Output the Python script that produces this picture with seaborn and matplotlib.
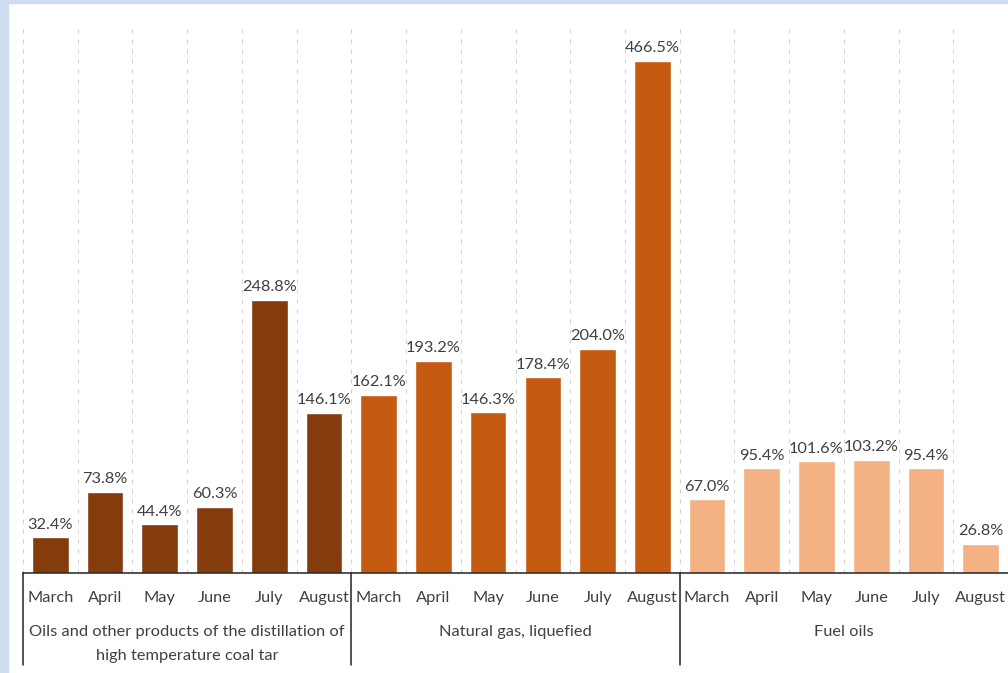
import matplotlib
matplotlib.use("Agg")
import matplotlib.pyplot as plt
import matplotlib.patches as mpatches
import matplotlib.transforms as mtransforms
import pandas as pd
import seaborn as sns

# Data
months = ["March", "April", "May", "June", "July", "August"]
groups = [
    "Oils and other products of the distillation of\nhigh temperature coal tar",
    "Natural gas, liquefied",
    "Fuel oils",
]
coal_tar = [32.4, 73.8, 44.4, 60.3, 248.8, 146.1]
lng = [162.1, 193.2, 146.3, 178.4, 204.0, 466.5]
fuel_oils = [67.0, 95.4, 101.6, 103.2, 95.4, 26.8]
colors = ["#843C0C", "#C55A11", "#F4B183"]

rows = []
for g, vals in zip(groups, [coal_tar, lng, fuel_oils]):
    for m, v in zip(months, vals):
        rows.append({"key": f"{g}|{m}", "month": m, "group": g, "value": v})
df = pd.DataFrame(rows)

sns.set_theme(style="white")
plt.rcParams["font.family"] = ["Lato", "DejaVu Sans"]
text_color = "#404040"
fs = 11.8

W, H = 1008, 673
fig = plt.figure(figsize=(W / 100, H / 100), dpi=100)
fig.patch.set_facecolor("white")

# light blue frame along the left and top edges
fig.patches.append(mpatches.Rectangle((0, 0), 8 / W, 1, transform=fig.transFigure,
                                      color="#CFDDF0", zorder=0))
fig.patches.append(mpatches.Rectangle((0, 1 - 3 / H), 1, 3 / H, transform=fig.transFigure,
                                      color="#CFDDF0", zorder=0))

left, right = 23 / W, 1.0
bottom, top = 1 - 573 / H, 1 - 24 / H
ax = fig.add_axes([left, bottom, right - left, top - bottom])
ax.set_facecolor("none")

sns.barplot(data=df, x="key", y="value", hue="group", palette=colors,
            dodge=False, width=0.67, legend=False, ax=ax, saturation=1)

ax.set_xlim(-0.5, len(df) - 0.5)
ax.set_ylim(0, 500)

# dashed separators between categories
for i in range(len(df) + 1):
    ax.axvline(i - 0.5, color="#D0D0D0", lw=0.75, ls=(0, (3.8, 5.8)), zorder=0)

# value labels
for cont in ax.containers:
    ax.bar_label(cont, labels=[f"{v:.1f}%" for v in cont.datavalues],
                 padding=4, fontsize=fs, color=text_color)

for s in ["top", "right", "left"]:
    ax.spines[s].set_visible(False)
ax.spines["bottom"].set_color("#222222")
ax.spines["bottom"].set_linewidth(1.1)
ax.set_yticks([])
ax.set_xlabel("")
ax.set_ylabel("")
ax.set_xticks(range(len(df)))
ax.set_xticklabels(df["month"], fontsize=fs, color=text_color)
ax.tick_params(axis="x", length=0, pad=13)

# group labels and vertical separators below the axis
trans = mtransforms.blended_transform_factory(ax.transData, ax.transAxes)
axh = 573 - 24
for gi, g in enumerate(groups):
    x0 = gi * 6 - 0.5
    ax.plot([x0, x0], [0, -(665 - 573) / axh], transform=trans, color="#222222",
            lw=1.1, clip_on=False)
    ax.text(gi * 6 + 2.5, -(625 - 573) / axh, g, transform=trans, ha="center",
            va="top", fontsize=fs, color=text_color, linespacing=1.9)

fig.savefig("out.png", dpi=100)
